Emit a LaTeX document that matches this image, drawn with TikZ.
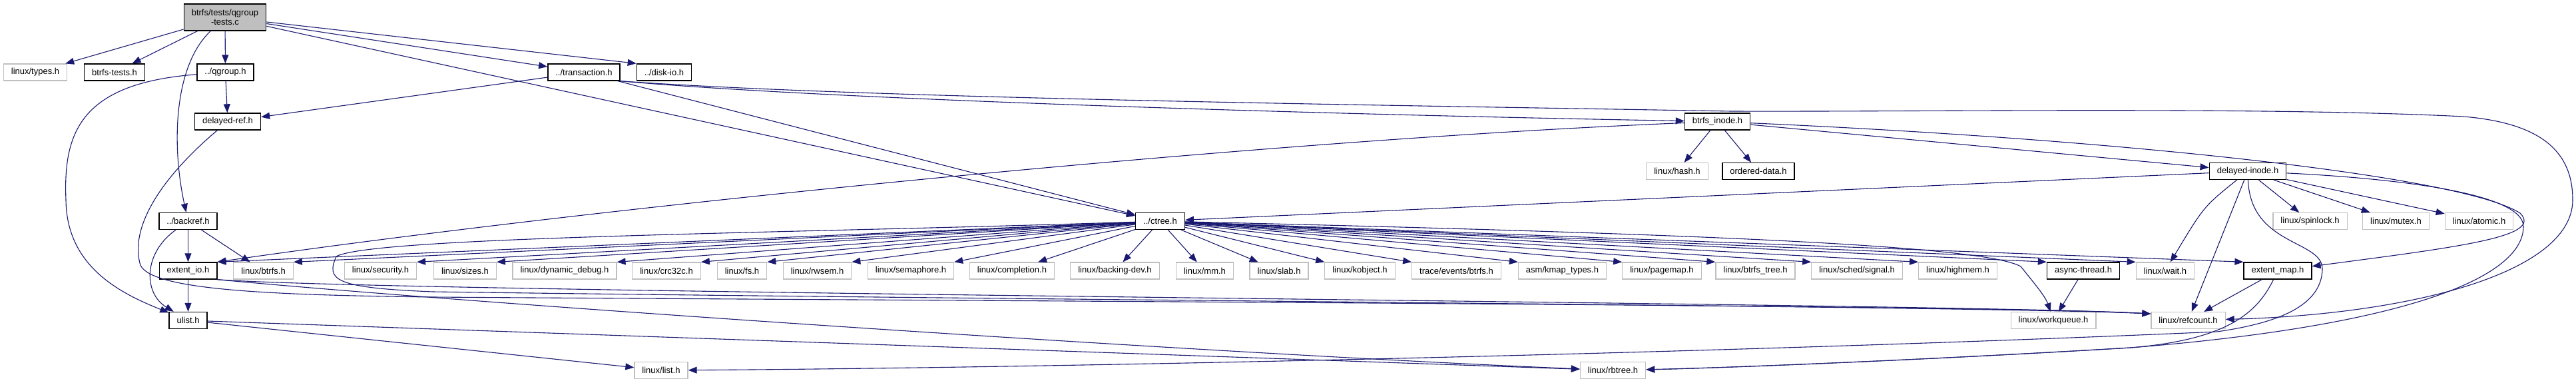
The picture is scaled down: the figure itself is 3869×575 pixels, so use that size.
\documentclass[tikz,border=0pt]{standalone}
\usepackage{fontspec}
\setmainfont{Liberation Sans}
\usetikzlibrary{arrows.meta}
\definecolor{depcolor}{RGB}{25,25,112}
\definecolor{sysgray}{RGB}{191,191,191}

\begin{document}
\begin{tikzpicture}[x=1pt,y=-1pt,
  file/.style={draw=black,line width=1.4pt,fill=white,font=\fontsize{13}{14}\selectfont,
               inner xsep=11.5pt,inner ysep=0pt,minimum height=25pt},
  sysfile/.style={file,draw=sysgray,line width=1.2pt},
  mainfile/.style={file,fill=sysgray,align=center,minimum height=40pt},
  dep/.style={-{Triangle[length=13pt,width=10pt]},line width=1.1pt,depcolor}
]
\useasboundingbox (0,0) rectangle (3869,575);

\node[mainfile] (root) at (338,26) {btrfs/tests/qgroup\\-tests.c};
\node[sysfile] (types) at (53,108.5) {linux/types.h};
\node[file] (btests) at (172,108.5) {btrfs-tests.h};
\node[file] (qgroup) at (338.5,108.5) {../qgroup.h};
\node[file] (trans) at (877,108.5) {../transaction.h};
\node[file] (diskio) at (997.5,108.5) {../disk-io.h};
\node[file] (dref) at (342,182.5) {delayed-ref.h};
\node[file] (binode) at (2579.5,182.5) {btrfs\_inode.h};
\node[sysfile] (hash) at (2519,257) {linux/hash.h};
\node[file] (ordered) at (2641,257) {ordered-data.h};
\node[file] (dinode) at (3376,257) {delayed-inode.h};
\node[file] (backref) at (282.5,332) {../backref.h};
\node[file] (ctree) at (1742.5,332) {../ctree.h};
\node[sysfile] (spinlock) at (3469.5,332) {linux/spinlock.h};
\node[sysfile] (mutex) at (3598.5,332) {linux/mutex.h};
\node[sysfile] (atomic) at (3723.5,332) {linux/atomic.h};
\node[file] (extio) at (282.5,406.5) {extent\_io.h};
\node[sysfile] (lbtrfs) at (395.5,406.5) {linux/btrfs.h};
\node[sysfile] (security) at (571.5,406.5) {linux/security.h};
\node[sysfile] (sizes) at (698.5,406.5) {linux/sizes.h};
\node[sysfile] (dyndbg) at (848,406.5) {linux/dynamic\_debug.h};
\node[sysfile] (crc) at (1001,406.5) {linux/crc32c.h};
\node[sysfile] (fs) at (1114.5,406.5) {linux/fs.h};
\node[sysfile] (rwsem) at (1227.5,406.5) {linux/rwsem.h};
\node[sysfile] (sema) at (1368,406.5) {linux/semaphore.h};
\node[sysfile] (compl) at (1520,406.5) {linux/completion.h};
\node[sysfile] (bdev) at (1674.5,406.5) {linux/backing-dev.h};
\node[sysfile] (mm) at (1809.5,406.5) {linux/mm.h};
\node[sysfile] (slab) at (1921,406.5) {linux/slab.h};
\node[sysfile] (kobj) at (2042.5,406.5) {linux/kobject.h};
\node[sysfile] (trace) at (2187.5,406.5) {trace/events/btrfs.h};
\node[sysfile] (kmap) at (2346.5,406.5) {asm/kmap\_types.h};
\node[sysfile] (pagemap) at (2496,406.5) {linux/pagemap.h};
\node[sysfile] (btree) at (2636.5,406.5) {linux/btrfs\_tree.h};
\node[sysfile] (signal) at (2789,406.5) {linux/sched/signal.h};
\node[sysfile] (highmem) at (2940.5,406.5) {linux/highmem.h};
\node[file] (async) at (3129,406.5) {async-thread.h};
\node[sysfile] (wait) at (3252,406.5) {linux/wait.h};
\node[file] (extmap) at (3421,406.5) {extent\_map.h};
\node[file] (ulist) at (282.5,481) {ulist.h};
\node[sysfile] (wq) at (3084,481) {linux/workqueue.h};
\node[sysfile] (refcount) at (3286.5,481) {linux/refcount.h};
\node[sysfile] (list) at (993,556) {linux/list.h};
\node[sysfile] (rbtree) at (2422.5,556) {linux/rbtree.h};

\draw[dep] (root) -- (types);
\draw[dep] (root) -- (btests);
\draw[dep] (root) -- (qgroup);
\draw[dep] (root) .. controls (260,100) and (258,220) .. (backref);
\draw[dep] (root) -- (ctree);
\draw[dep] (root) -- (trans);
\draw[dep] (root) -- (diskio.north west);
\draw[dep] (qgroup) -- (dref);
\draw[dep] (qgroup) .. controls (120,125) and (95,200) .. (99,300) .. controls (100,400) and (180,440) .. (ulist);
\draw[dep] (trans) -- (dref);
\draw[dep] (trans) -- (ctree);
\draw[dep] (trans.south east) .. controls (1250,150) and (2000,172) .. (binode);
\draw[dep] (trans.south east) .. controls (1300,148) and (2100,158) .. (2600,167)
  .. controls (2900,168) and (3400,160) .. (3700,175)
  .. controls (3820,185) and (3864,230) .. (3864,300)
  .. controls (3864,410) and (3620,472) .. (refcount);
\draw[dep] (dref) .. controls (250,260) and (195,335) .. (210,395)
  .. controls (218,435) and (400,443) .. (650,446)
  .. controls (1500,452) and (3000,458) .. (refcount.170);
\draw[dep] (backref) -- (extio);
\draw[dep] (backref) -- (lbtrfs);
\draw[dep] (backref) .. controls (215,380) and (215,440) .. (ulist);
\draw[dep] (extio) -- (ulist);
\draw[dep] (extio.south east) .. controls (700,455) and (1800,530) .. (rbtree);
\draw[dep] (extio.south east) .. controls (600,440) and (2950,455) .. (refcount.170);
\draw[dep] (ulist) -- (list);
\draw[dep] (ulist) -- (rbtree);

\draw[dep] (ctree) -- (extio.north east);
\draw[dep] (ctree) -- (lbtrfs.north east);
\draw[dep] (ctree) -- (security.north east);
\draw[dep] (ctree) -- (sizes.north east);
\draw[dep] (ctree) -- (dyndbg.north east);
\draw[dep] (ctree) -- (crc.north east);
\draw[dep] (ctree) -- (fs.north east);
\draw[dep] (ctree) -- (rwsem.north east);
\draw[dep] (ctree) -- (sema.north east);
\draw[dep] (ctree) -- (compl);
\draw[dep] (ctree) -- (bdev);
\draw[dep] (ctree) -- (mm);
\draw[dep] (ctree) -- (slab);
\draw[dep] (ctree) -- (kobj.north west);
\draw[dep] (ctree) -- (trace.north west);
\draw[dep] (ctree) -- (kmap.north west);
\draw[dep] (ctree) -- (pagemap.north west);
\draw[dep] (ctree) -- (btree.north west);
\draw[dep] (ctree) -- (signal.north west);
\draw[dep] (ctree) -- (highmem.north west);
\draw[dep] (ctree) -- (async.north west);
\draw[dep] (ctree) -- (wait.north west);
\draw[dep] (ctree) -- (extmap.north west);
\draw[dep] (ctree) .. controls (2600,352) and (2980,370) .. (3035,400)
  .. controls (3055,425) and (3072,445) .. (wq);
\draw[dep] (ctree) .. controls (1200,350) and (560,355) .. (505,385)
  .. controls (490,420) and (500,432) .. (650,438)
  .. controls (1500,450) and (3000,460) .. (refcount.170);

\draw[dep] (binode) -- (hash);
\draw[dep] (binode) -- (ordered);
\draw[dep] (binode) -- (dinode);
\draw[dep] (binode) .. controls (1900,210) and (900,310) .. (extio.north east);
\draw[dep] (binode) .. controls (3200,210) and (3700,265) .. (3785,320)
  .. controls (3820,355) and (3700,370) .. (extmap);

\draw[dep] (dinode) -- (ctree);
\draw[dep] (dinode) .. controls (3310,310) .. (wait);
\draw[dep] (dinode) -- (refcount);
\draw[dep] (dinode) -- (spinlock);
\draw[dep] (dinode) -- (mutex);
\draw[dep] (dinode) -- (atomic);
\draw[dep] (dinode) .. controls (3380,370) and (3490,360) .. (3488,405)
  .. controls (3486,460) and (3420,485) .. (3330,498)
  .. controls (2600,530) and (1600,552) .. (list);
\draw[dep] (dinode) .. controls (3600,268) and (3790,290) .. (3790,340)
  .. controls (3790,420) and (3600,490) .. (3200,522)
  .. controls (2900,540) and (2600,552) .. (rbtree);

\draw[dep] (extmap) -- (refcount);
\draw[dep] (extmap) .. controls (3390,470) and (3345,510) .. (3200,522)
  .. controls (2900,540) and (2600,552) .. (rbtree);
\draw[dep] (async) -- (wq);
\end{tikzpicture}
\end{document}
